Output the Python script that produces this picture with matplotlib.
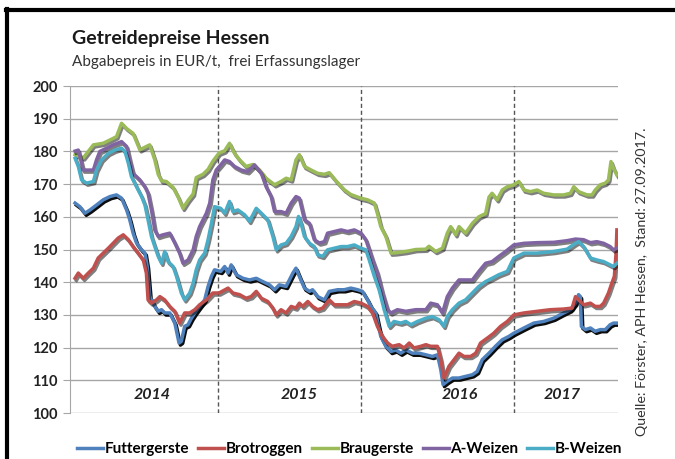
import matplotlib
matplotlib.use("Agg")
import matplotlib.pyplot as plt
import matplotlib.patheffects as pe
from matplotlib.lines import Line2D

plt.rcParams['font.family'] = ['Lato', 'DejaVu Sans']

# x = weeks since start of 2014, y = EUR/t
fg_x = [1.8, 3.5, 5.3, 7.1, 9.4, 11.8, 14.2, 16.5, 18.3, 20.1, 21.2, 22.4, 23.6, 25.4, 26.6, 27.4, 28.3,
        30.1, 31.3, 32.5, 33.6, 35.4, 37.2, 38.7, 39.5, 40.7, 41.9, 43.1, 44.3, 46.0, 47.8, 49.0, 50.2, 51.3,
        53.5, 54.9, 56.1, 57.2, 59.0, 61.4, 63.7, 66.1, 68.4, 70.8, 72.6, 74.3, 76.7, 79.1, 80.2, 81.4, 83.2,
        85.0, 86.1, 87.9, 90.3, 92.0, 95.0, 97.3, 99.7, 102.1, 103.8, 105.6, 106.8, 108.5, 110.3, 112.1,
        113.9, 115.6, 117.4, 119.2, 121.5, 123.9, 126.3, 128.6, 130.4, 131.6, 132.4, 133.9, 135.7, 138.05,
        140.4, 142.8, 144.5, 146.3, 148.7, 151.0, 153.4, 155.7, 157.5, 161.1, 164.6, 168.1, 171.7, 175.2,
        177.6, 179.4, 180.5, 181.1, 181.5, 182.9, 184.7, 186.4, 188.2, 190.0, 191.7, 192.9, 194.1]
fg_y = [164.2, 163.1, 161.1, 162.1, 163.6, 165.2, 166.2, 166.7, 165.7, 162.1, 159.1, 155.0, 152.0, 149.9,
        148.9, 144.8, 135.6, 132.6, 131.1, 131.6, 130.6, 130.6, 127.5, 121.4, 121.9, 126.5, 127.0, 129.0,
        130.6, 132.6, 134.6, 138.7, 141.8, 143.8,
        143.3, 144.8, 142.8, 145.3, 142.3, 141.2, 140.7, 141.2, 140.2, 139.2, 137.7, 139.2, 138.7, 142.8,
        144.3, 141.8, 138.2, 137.2, 137.7, 135.6, 134.6, 137.2, 137.7, 137.7, 138.2, 137.7, 137.2, 134.6,
        132.6, 130.6, 123.4, 120.4, 118.8, 119.3, 118.3, 119.3, 118.3, 118.3, 117.8, 117.3, 117.8, 113.2,
        108.7, 109.7, 110.7, 110.7, 111.2, 111.7, 112.7, 116.3, 118.3, 120.4, 122.4, 123.4, 124.4, 126.0,
        127.5, 128.0, 129.0, 130.6, 131.6, 133.6, 136.2, 135.6, 126.5, 125.5, 126.0, 125.0, 125.5, 125.5,
        127.0, 127.5, 127.5]

br_x = [1.8, 2.95, 4.7, 6.5, 8.3, 10.0, 11.8, 13.6, 15.3, 17.1, 18.9, 20.7, 22.4, 24.2, 26.0, 27.1, 27.7,
        28.9, 30.7, 31.9, 33.6, 35.4, 37.2, 38.9, 40.7, 42.5, 44.3, 46.0, 48.4, 50.7, 52.9,
        56.1, 57.8, 60.2, 62.5, 64.3, 66.1, 67.9, 70.2, 72.0, 73.2, 74.9, 76.7, 78.5, 80.2, 81.4, 82.6,
        84.4, 86.1, 87.9, 89.7, 92.0, 93.8, 96.2, 98.5, 100.9, 103.3, 105.6, 107.4, 109.1, 110.9, 112.7,
        114.4, 116.8, 118.6, 120.4, 122.1, 124.5, 126.3, 128.0, 130.4, 131.6, 132.7, 134.5, 136.3, 138.05,
        139.8, 142.2, 144.0, 145.7, 148.1, 150.4, 152.8, 155.2, 157.5, 161.1, 165.8, 170.5, 175.2, 178.2,
        179.4, 180.5, 182.3, 184.7, 186.4, 188.2, 189.4, 191.1, 192.3, 193.2, 193.8, 194.1]
br_y = [141.2, 142.8, 141.2, 142.8, 144.3, 147.4, 148.9, 150.4, 151.9, 153.5, 154.5, 153.0, 150.9, 148.9,
        146.8, 142.8, 134.6, 133.6, 134.6, 135.6, 134.6, 132.6, 131.1, 127.5, 130.6, 130.6, 131.6, 133.1,
        134.6, 136.7, 136.7,
        138.2, 136.7, 136.2, 135.1, 135.6, 137.2, 135.1, 134.1, 132.1, 130.0, 131.6, 130.6, 132.6, 132.1,
        133.6, 132.6, 134.1, 132.6, 131.6, 132.1, 134.6, 133.1, 133.1, 133.1, 134.1, 133.6, 132.6, 130.6,
        126.5, 123.4, 121.4, 120.4, 120.9, 119.9, 121.4, 119.9, 120.4, 120.9, 120.4, 120.4, 116.3, 110.7,
        114.3, 116.3, 118.3, 117.3, 117.3, 118.3, 121.4, 122.9, 124.4, 126.5, 128.0, 130.0, 130.6, 131.1,
        131.6, 131.8, 132.1, 135.6, 134.6, 133.1, 133.6, 132.6, 132.6, 133.6, 136.7, 139.7, 141.8, 148.9,
        156.0]

bg_x = [1.8, 4.7, 8.3, 11.8, 14.2, 16.5, 18.3, 20.1, 22.4, 24.8, 27.1, 28.3, 30.1, 31.3, 32.5, 34.2, 36.6,
        38.4, 40.1, 41.9, 43.7, 44.8, 47.2, 49.0, 50.7, 52.9, 54.9, 56.6, 58.4, 60.2, 62.5, 64.9, 67.3,
        69.6, 72.6, 74.9, 76.7, 78.5, 80.2, 81.4, 83.2, 85.6, 87.9, 90.3, 92.0, 94.4, 97.3, 99.7, 103.2,
        105.6, 108.0, 109.1, 110.3, 112.1, 113.9, 115.6, 119.2, 122.7, 126.3, 127.4, 129.8, 132.2, 133.9,
        135.1, 136.9, 138.05, 140.4, 142.8, 145.1, 147.5, 148.7, 149.8, 151.6, 153.4, 155.2, 157.5, 159.3,
        161.1, 163.4, 165.8, 168.1, 171.7, 175.2, 177.6, 178.8, 180.5, 183.5, 185.3, 186.4, 188.2, 190.0,
        191.1, 192.0, 192.9, 194.1]
bg_y = [179.0, 178.0, 182.0, 182.5, 183.5, 184.5, 188.6, 187.0, 185.5, 180.5, 181.5, 182.0, 177.4, 173.0,
        171.0, 170.8, 169.0, 166.0, 162.6, 165.0, 167.0, 172.0, 173.0, 174.5, 177.0, 179.5, 180.2, 182.5,
        179.4, 177.4, 175.4, 176.0, 174.3, 171.8, 169.8, 170.8, 171.8, 171.3, 177.4, 179.0, 175.4, 174.3,
        173.3, 173.0, 173.5, 171.0, 168.3, 166.8, 165.7, 165.2, 164.2, 161.0, 157.0, 154.0, 148.9, 149.0,
        149.4, 150.0, 150.1, 151.0, 149.4, 150.4, 155.0, 157.0, 154.5, 157.0, 155.0, 158.0, 160.0, 161.0,
        166.0, 167.2, 165.2, 168.2, 169.2, 169.8, 170.8, 168.2, 167.7, 168.2, 167.2, 166.7, 166.7, 167.2,
        169.2, 167.7, 166.7, 166.7, 168.2, 169.8, 170.3, 171.3, 176.9, 174.8, 172.8]

aw_x = [1.8, 2.95, 4.7, 6.5, 8.3, 9.4, 10.6, 13.0, 15.3, 18.3, 20.1, 21.2, 22.4, 24.8, 26.6, 27.7, 28.9,
        30.1, 31.3, 33.0, 35.4, 37.2, 38.9, 40.1, 41.9, 43.7, 44.8, 46.0, 48.4, 49.6, 50.7, 51.9, 53.5,
        54.9, 56.6, 58.4, 60.8, 63.1, 65.5, 67.9, 69.6, 71.4, 72.6, 74.9, 76.7, 78.5, 80.2, 81.4, 83.2,
        85.0, 86.7, 88.5, 90.3, 91.4, 93.8, 96.2, 98.5, 100.9, 103.3, 105.0, 107.4, 109.1, 110.9, 112.7,
        113.9, 116.2, 119.2, 122.7, 126.3, 128.0, 130.4, 132.2, 133.9, 135.7, 138.05, 140.4, 142.8, 145.1,
        147.5, 149.8, 152.2, 154.6, 157.5, 161.1, 165.8, 171.7, 176.4, 179.4, 182.3, 184.7, 187.0, 189.4,
        191.7, 192.9, 194.1]
aw_y = [180.1, 180.4, 174.3, 174.3, 174.3, 177.4, 180.0, 181.0, 182.0, 183.0, 181.5, 177.4, 173.3, 171.3,
        169.2, 167.2, 162.1, 156.0, 154.0, 154.5, 155.0, 152.0, 148.9, 145.8, 146.8, 149.9, 154.0, 157.0,
        161.1, 164.2, 171.3, 174.3, 175.9, 177.4, 176.9, 175.4, 174.3, 173.8, 175.9, 173.3, 169.2, 166.2,
        161.6, 161.6, 161.1, 164.2, 166.2, 165.7, 159.1, 158.0, 153.0, 152.0, 152.4, 155.0, 155.5, 156.0,
        155.5, 156.0, 155.0, 153.0, 146.8, 142.8, 136.7, 131.6, 130.6, 131.6, 131.1, 131.6, 131.6, 133.6,
        133.1, 130.6, 135.6, 138.2, 140.7, 140.7, 140.7, 143.3, 145.8, 146.3, 147.9, 149.4, 151.4, 151.9,
        152.1, 152.2, 152.7, 153.2, 153.0, 152.1, 152.4, 151.9, 150.9, 149.9, 150.4]

bw_x = [1.8, 2.95, 4.1, 5.9, 8.3, 9.4, 11.2, 13.6, 15.9, 18.3, 19.5, 20.7, 21.8, 23.6, 25.4, 26.6, 27.7,
        28.9, 30.1, 31.3, 32.5, 33.6, 34.8, 36.6, 37.8, 39.5, 40.7, 42.5, 43.7, 44.8, 46.0, 47.8, 49.0,
        50.2, 51.3, 53.5, 54.9, 56.6, 57.8, 59.6, 62.0, 63.7, 66.1, 67.9, 70.2, 72.0, 73.2, 74.9, 76.7,
        78.5, 80.2, 81.1, 82.0, 83.2, 85.0, 86.7, 87.9, 89.7, 91.4, 93.8, 96.2, 98.5, 100.9, 103.3, 105.0,
        106.2, 108.0, 109.7, 111.5, 113.3, 115.0, 117.4, 119.2, 121.0, 123.3, 126.3, 128.6, 131.0, 132.7,
        133.9, 135.7, 138.05, 140.4, 142.8, 145.1, 147.5, 149.8, 152.2, 155.2, 157.5, 161.1, 165.8, 171.7,
        176.4, 179.4, 180.5, 182.3, 184.7, 187.0, 189.4, 191.7, 192.9, 194.1]
bw_y = [177.9, 175.4, 171.3, 170.3, 170.8, 174.3, 177.4, 179.4, 180.4, 181.0, 180.0, 176.4, 172.3, 169.2,
        166.2, 163.6, 159.1, 154.0, 150.9, 147.9, 145.8, 149.4, 146.3, 144.8, 141.8, 136.7, 134.6, 136.7,
        139.7, 143.8, 146.8, 148.9, 153.0, 158.0, 163.1, 162.6, 161.1, 164.7, 161.6, 162.1, 160.6, 158.6,
        162.6, 161.1, 159.1, 154.0, 149.9, 151.4, 151.9, 154.0, 157.0, 160.1, 158.0, 154.0, 151.9, 150.9,
        148.4, 147.9, 149.9, 150.4, 150.9, 150.9, 151.4, 150.4, 149.9, 146.8, 141.8, 137.7, 131.6, 126.5,
        128.0, 127.5, 128.0, 127.0, 128.0, 129.0, 129.5, 128.5, 126.5, 129.5, 131.6, 133.6, 134.6, 136.7,
        138.7, 140.2, 141.2, 142.3, 143.3, 147.4, 148.9, 148.9, 149.4, 150.1, 151.9, 152.4, 150.9, 147.4,
        146.8, 146.3, 145.3, 144.8, 145.8]

series = ["Futtergerste", "Brotroggen", "Braugerste", "A-Weizen", "B-Weizen"]
colors = ["#4F81BD", "#C0504D", "#9BBB59", "#8064A2", "#4BACC6"]
year_starts = [52.7, 103.4, 157.6]
year_labels = ["2014", "2015", "2016", "2017"]
year_label_x = [29, 81.5, 138.5, 174.5]

fig = plt.figure(figsize=(6.75, 4.59), dpi=100)
ax = fig.add_axes([0.1037, 0.1002, 0.8119, 0.7124])

data = [(fg_x, fg_y), (br_x, br_y), (bg_x, bg_y), (aw_x, aw_y), (bw_x, bw_y)]
for (xs, ys), name, c in zip(data, series, colors):
    a = 0.95 if name == "Futtergerste" else 0.5
    ax.plot(xs, ys, color=c, lw=2.5, label=name, solid_joinstyle='round',
            path_effects=[pe.SimpleLineShadow(offset=(1, -1.5), shadow_color='black', alpha=a),
                          pe.Normal()])

for xv in year_starts:
    ax.axvline(xv, color='#555555', lw=1, ls=(0, (3, 2)), zorder=1)
for xv, t in zip(year_label_x, year_labels):
    ax.text(xv, 105.5, t, ha='center', va='center', fontsize=11.5, fontweight='bold',
            fontstyle='italic', color='#222222')

ax.set_xlim(0, 194.5)
ax.set_ylim(100, 200)
ax.set_yticks(range(100, 201, 10))
ax.set_xticks([])
ax.grid(axis='y', color='#a6a6a6', lw=1)
ax.set_axisbelow(True)
for s in ['top', 'right', 'bottom']:
    ax.spines[s].set_visible(False)
ax.spines['left'].set_color('#a6a6a6')
ax.tick_params(axis='y', length=5, color='#a6a6a6', pad=4, labelsize=10.5)
for lab in ax.get_yticklabels():
    lab.set_fontweight('bold')
    lab.set_color('#222222')

fig.text(0.106, 0.916, "Getreidepreise Hessen", fontsize=14, fontweight='bold', color='#1a1a1a',
         va='center')
fig.text(0.106, 0.865, "Abgabepreis in EUR/t,  frei Erfassungslager", fontsize=11, color='#333333',
         va='center')
fig.text(0.951, 0.387, "Quelle: Förster, APH Hessen,  Stand: 27.09.2017.", rotation=90, fontsize=10.3,
         color='#333333', ha='center', va='center')

leg = fig.legend(loc='center', bbox_to_anchor=(0.518, 0.022), ncol=5, frameon=False, handlelength=1.7,
                 handletextpad=0.1, columnspacing=0.6, prop={'weight': 'bold', 'size': 11})
for h in leg.get_lines():
    h.set_path_effects([])
    h.set_linewidth(2.5)

# black frame on the left and top
fig.add_artist(Line2D([0.010, 0.010], [0.0, 0.980], transform=fig.transFigure, color='black', lw=3))
fig.add_artist(Line2D([0.0085, 1.0], [0.979, 0.979], transform=fig.transFigure, color='black', lw=3))

fig.savefig("out.png", dpi=100)
